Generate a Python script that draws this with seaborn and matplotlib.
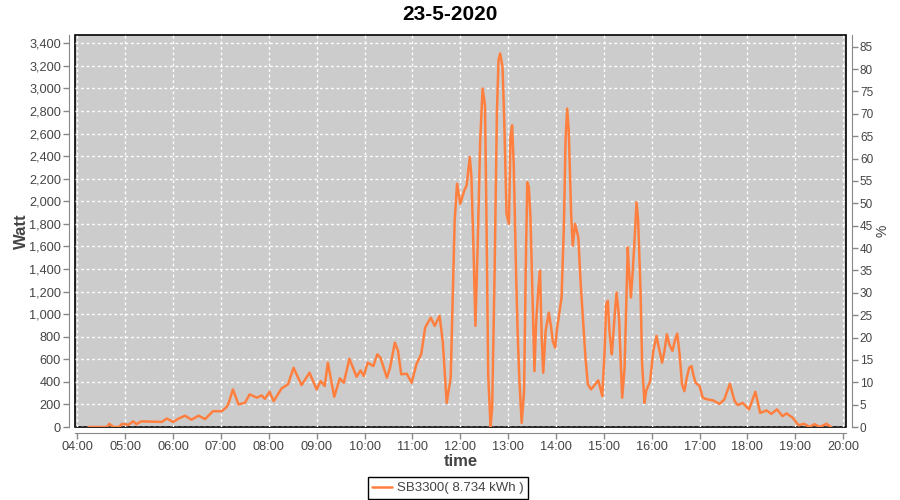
import numpy as np
import pandas as pd
import matplotlib
matplotlib.use("Agg")
import matplotlib.pyplot as plt
import matplotlib.ticker as mticker
import seaborn as sns

# power readings of the inverter
times = ["04:14", "04:37", "04:40", "04:45", "04:52", "04:56", "05:04", "05:10", "05:14", "05:20",
         "05:46", "05:52", "06:00", "06:07", "06:15", "06:23", "06:32", "06:40", "06:50", "07:01",
         "07:07", "07:10", "07:15", "07:22", "07:30", "07:36", "07:45", "07:51", "07:55", "08:01",
         "08:06", "08:16", "08:24", "08:31", "08:41", "08:51", "09:00", "09:05", "09:10", "09:14",
         "09:22", "09:29", "09:34", "09:41", "09:50", "09:55", "09:59", "10:04", "10:11", "10:16",
         "10:20", "10:28", "10:32", "10:38", "10:42", "10:46", "10:53", "10:59", "11:05", "11:11",
         "11:16", "11:23", "11:28", "11:34", "11:38", "11:43", "11:48", "11:50", "11:53", "11:56",
         "12:00", "12:05", "12:08", "12:12", "12:14", "12:17", "12:19", "12:22", "12:25", "12:28",
         "12:31", "12:33", "12:35", "12:38", "12:40", "12:43", "12:46", "12:48", "12:50", "12:53",
         "12:55", "12:58", "13:01", "13:03", "13:05", "13:07", "13:10", "13:12", "13:14", "13:17",
         "13:20", "13:22", "13:24", "13:26", "13:28", "13:31", "13:33", "13:35", "13:38", "13:40",
         "13:42", "13:44", "13:47", "13:51", "13:54", "13:56", "13:59", "14:01", "14:04", "14:07",
         "14:10", "14:12", "14:14", "14:16", "14:19", "14:21", "14:24", "14:28", "14:31", "14:34",
         "14:37", "14:40", "14:44", "14:49", "14:53", "14:56", "14:58", "15:01", "15:03", "15:05",
         "15:07", "15:10", "15:11", "15:14", "15:16", "15:19", "15:21", "15:23", "15:26", "15:28",
         "15:30", "15:31", "15:34", "15:36", "15:38", "15:41", "15:43", "15:46", "15:48", "15:51",
         "15:53", "15:58", "16:02", "16:06", "16:09", "16:13", "16:16", "16:19", "16:22", "16:26",
         "16:29", "16:32", "16:35", "16:38", "16:41", "16:44", "16:47", "16:50", "16:52", "16:55",
         "17:00", "17:04", "17:10", "17:17", "17:25", "17:31", "17:38", "17:44", "17:48", "17:54",
         "18:02", "18:10", "18:16", "18:24", "18:30", "18:37", "18:44", "18:49", "18:57", "19:04",
         "19:11", "19:18", "19:24", "19:31", "19:39", "19:45"]
watts = [0, 0, 28, 0, 0, 28, 20, 50, 25, 50,
         45, 75, 45, 75, 100, 65, 100, 70, 140, 140,
         176, 220, 333, 200, 215, 289, 260, 280, 250, 312,
         229, 342, 378, 525, 371, 481, 333, 407, 363, 570,
         268, 431, 392, 605, 445, 502, 452, 570, 540, 644,
         614, 437, 525, 748, 674, 467, 472, 392, 556, 644,
         881, 970, 896, 985, 763, 214, 437, 1000, 1830, 2156,
         1978, 2096, 2141, 2393, 2215, 1474, 896, 1652, 2541, 3000,
         2852, 1770, 467, 0, 170, 1356, 2807, 3252, 3311, 3192,
         2748, 1889, 1800, 2570, 2674, 2333, 1356, 822, 437, 36,
         318, 1356, 2170, 2126, 1859, 1059, 496, 911, 1237, 1385,
         822, 481, 850, 1014, 880, 760, 703, 852, 1000, 1148,
         1800, 2541, 2822, 2630, 1889, 1607, 1800, 1681, 1267, 941,
         614, 378, 333, 378, 413, 333, 274, 674, 1089, 1118,
         852, 644, 733, 1029, 1192, 970, 614, 259, 525, 1059,
         1592, 1444, 1148, 1356, 1592, 1992, 1830, 1207, 556, 214,
         318, 407, 674, 807, 703, 570, 674, 822, 733, 674,
         763, 828, 644, 378, 318, 437, 525, 540, 467, 392,
         363, 259, 244, 236, 205, 244, 383, 229, 194, 214,
         156, 312, 125, 147, 116, 156, 96, 120, 81, 16,
         28, 0, 25, 0, 28, 0]

series_name = "SB3300( 8.734 kWh )"
title = "23-5-2020"

df = pd.DataFrame({"time": times, "watt": watts})
hm = df["time"].str.split(":", expand=True).astype(int)
df["hour"] = hm[0] + hm[1] / 60

sns.set_style("darkgrid", {"axes.facecolor": "#cccccc", "grid.color": "white",
                           "grid.linestyle": (0, (2, 2))})
plt.rcParams["font.family"] = ["Liberation Sans", "DejaVu Sans"]

fig = plt.figure(figsize=(9, 5), dpi=100)
ax = fig.add_axes([75 / 900, 1 - 427 / 500, (846 - 75) / 900, (427 - 35) / 500])

sns.lineplot(data=df, x="hour", y="watt", color="#ff7f3f", linewidth=1.8,
             label=series_name, ax=ax)

ax.set_xlim(3.95, 20.06)
ax.set_ylim(0, 3474)
ax.set_xticks(np.arange(4, 21, 1))
ax.xaxis.set_major_formatter(mticker.FuncFormatter(lambda v, p: "%02d:00" % round(v)))
ax.set_yticks(np.arange(0, 3401, 200))
ax.yaxis.set_major_formatter(mticker.StrMethodFormatter("{x:,.0f}"))
ax.grid(True, color="white", linestyle=(0, (2, 2)), linewidth=1)

# black frame round the plot, grey axis lines a little way out
ax.patch.set_edgecolor("black")
ax.patch.set_linewidth(1.2)
for side in ["left", "bottom", "right", "top"]:
    ax.spines[side].set_visible(False)
for side in ["left", "bottom"]:
    ax.spines[side].set_visible(True)
    ax.spines[side].set_position(("outward", 4))
    ax.spines[side].set_color("#888888")
ax.tick_params(axis="both", direction="out", length=4, width=1, color="#888888",
               labelsize=9.2, labelcolor="#444444", left=True, bottom=True, pad=2)

ax.set_xlabel("time", fontsize=12, fontweight="bold", color="#444444")
ax.set_ylabel("Watt", fontsize=12, fontweight="bold", color="#444444")
ax.xaxis.set_label_coords(0.5, -0.07)
ax.yaxis.set_label_coords(-0.06, 0.5)

ax2 = ax.twinx()
ax2.set_ylim(0, 87.6)
ax2.set_yticks(np.arange(0, 86, 5))
ax2.grid(False)
for side in ["left", "bottom", "top", "right"]:
    ax2.spines[side].set_visible(False)
ax2.spines["right"].set_visible(True)
ax2.spines["right"].set_position(("outward", 4))
ax2.spines["right"].set_color("#888888")
ax2.tick_params(axis="y", direction="out", length=4, width=1, color="#888888",
                labelsize=8.5, labelcolor="#444444", right=True, pad=2)
ax2.set_ylabel("%", fontsize=10, color="#444444")
ax2.yaxis.set_label_coords(1.038, 0.5)

ax.get_legend().remove()
h, l = ax.get_legend_handles_labels()
leg = fig.legend(h, l, loc="center", bbox_to_anchor=(448 / 900, 1 - 488 / 500),
                 frameon=True, fancybox=False, fontsize=9.5, handlelength=1.5,
                 borderpad=0.35, handletextpad=0.4)
leg.get_frame().set_edgecolor("black")
leg.get_frame().set_facecolor("white")
leg.get_frame().set_alpha(1)
leg.get_frame().set_linewidth(1)
for t in leg.get_texts():
    t.set_color("#444444")

fig.text(0.5, 1 - 14 / 500, title, ha="center", va="center", fontsize=15,
         fontweight="bold", color="black")

fig.savefig("out.png", dpi=100, facecolor="white")
